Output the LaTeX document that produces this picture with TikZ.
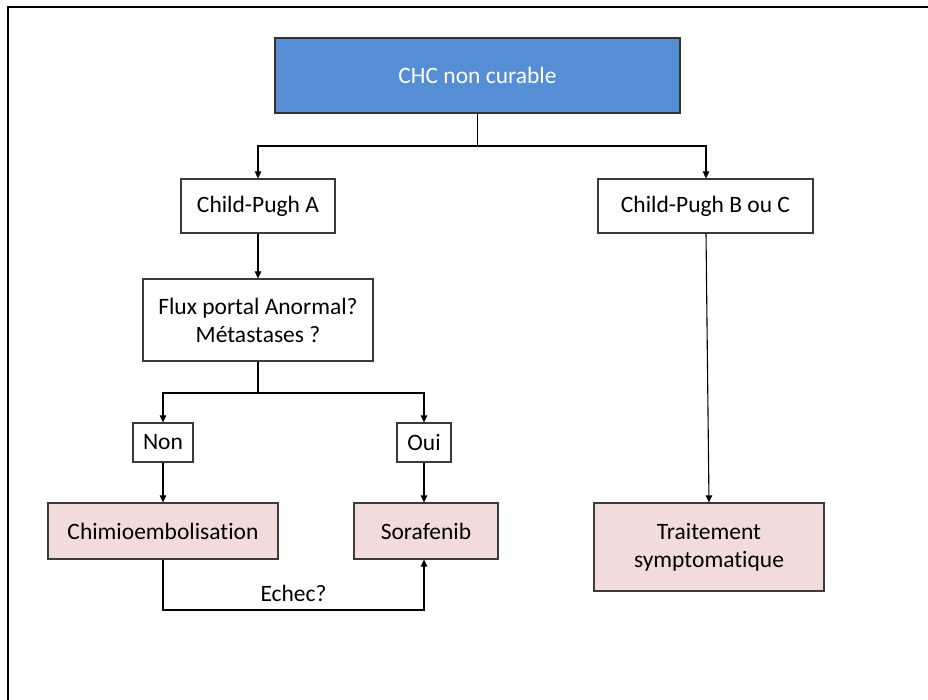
\documentclass[tikz,border=0pt]{standalone}
\usepackage{fontspec}
\setmainfont{Carlito}[Ligatures=NoCommon]
\usetikzlibrary{positioning, calc, arrows.meta}

\definecolor{chcblue}{HTML}{558ED5}
\definecolor{treatpink}{HTML}{F2DCDB}
\definecolor{boxline}{HTML}{3A3A3A}

\begin{document}
\begin{tikzpicture}[
  x=1pt, y=-1pt,
  font=\fontsize{23.5}{28}\selectfont,
  box/.style={
    draw=boxline, line width=1.2pt, fill=white,
    align=center, inner sep=0pt
  },
  root/.style={box, fill=chcblue, draw=black!80, text=white},
  treat/.style={box, fill=treatpink},
  link/.style={line width=1.1pt, -{Triangle[length=7pt, width=6.5pt]}},
  plain/.style={line width=1.1pt},
]
  \useasboundingbox (0,0) rectangle (928,700);

  % --- Frame (only top and left edges show) ---
  \draw[line width=1.8pt] (928,7) -- (8,7) -- (8,700);

  % --- Top ---
  \node[root, minimum width=405, minimum height=75] (chc) at (477.5, 75.5) {CHC non curable};
  \node[box, minimum width=154, minimum height=54] (cpa) at (258, 206) {Child-Pugh A};
  \node[box, minimum width=215, minimum height=54] (cpb) at (705.5, 206) {Child-Pugh B ou C};

  % --- Left branch ---
  \node[box, minimum width=230, minimum height=82] (flux) at (258, 320)
    {Flux portal Anormal?\\Métastases ?};
  \node[box, minimum width=60, minimum height=39] (non) at (163, 442.5) {Non};
  \node[box, minimum width=54, minimum height=39] (oui) at (424, 442.5) {Oui};
  \node[treat, minimum width=230, minimum height=56] (chimio) at (163, 531) {Chimioembolisation};
  \node[treat, minimum width=144, minimum height=56] (sora) at (426, 531) {Sorafenib};

  % --- Right branch ---
  \node[treat, minimum width=230, minimum height=88] (trait) at (709, 547)
    {Traitement\\symptomatique};

  % --- Connectors ---
  \coordinate (split1) at (477.5, 146);
  \coordinate (split2) at (258, 393);
  \coordinate (fail) at (163, 610);

  \draw[plain] (chc.south) -- (split1);
  \draw[link] (split1) -| (cpa.north);
  \draw[link] (split1) -| ([xshift=0.5pt]cpb.north);
  \draw[link] (cpa.south) -- (flux.north);
  \draw[link] ([xshift=0.5pt]cpb.south) -- (trait.north);

  \draw[plain] (flux.south) -- (split2);
  \draw[link] (split2) -| (non.north);
  \draw[link] (split2) -| (oui.north);
  \draw[link] (non.south) -- (chimio.north);
  \draw[link] (oui.south) -- (oui.south |- sora.north);

  % Echec loop
  \draw[link] (chimio.south) -- (fail) -| (oui.south |- sora.south)
    node[pos=0.25, above=4pt, text=black] (echec) {Echec?};

\end{tikzpicture}
\end{document}
